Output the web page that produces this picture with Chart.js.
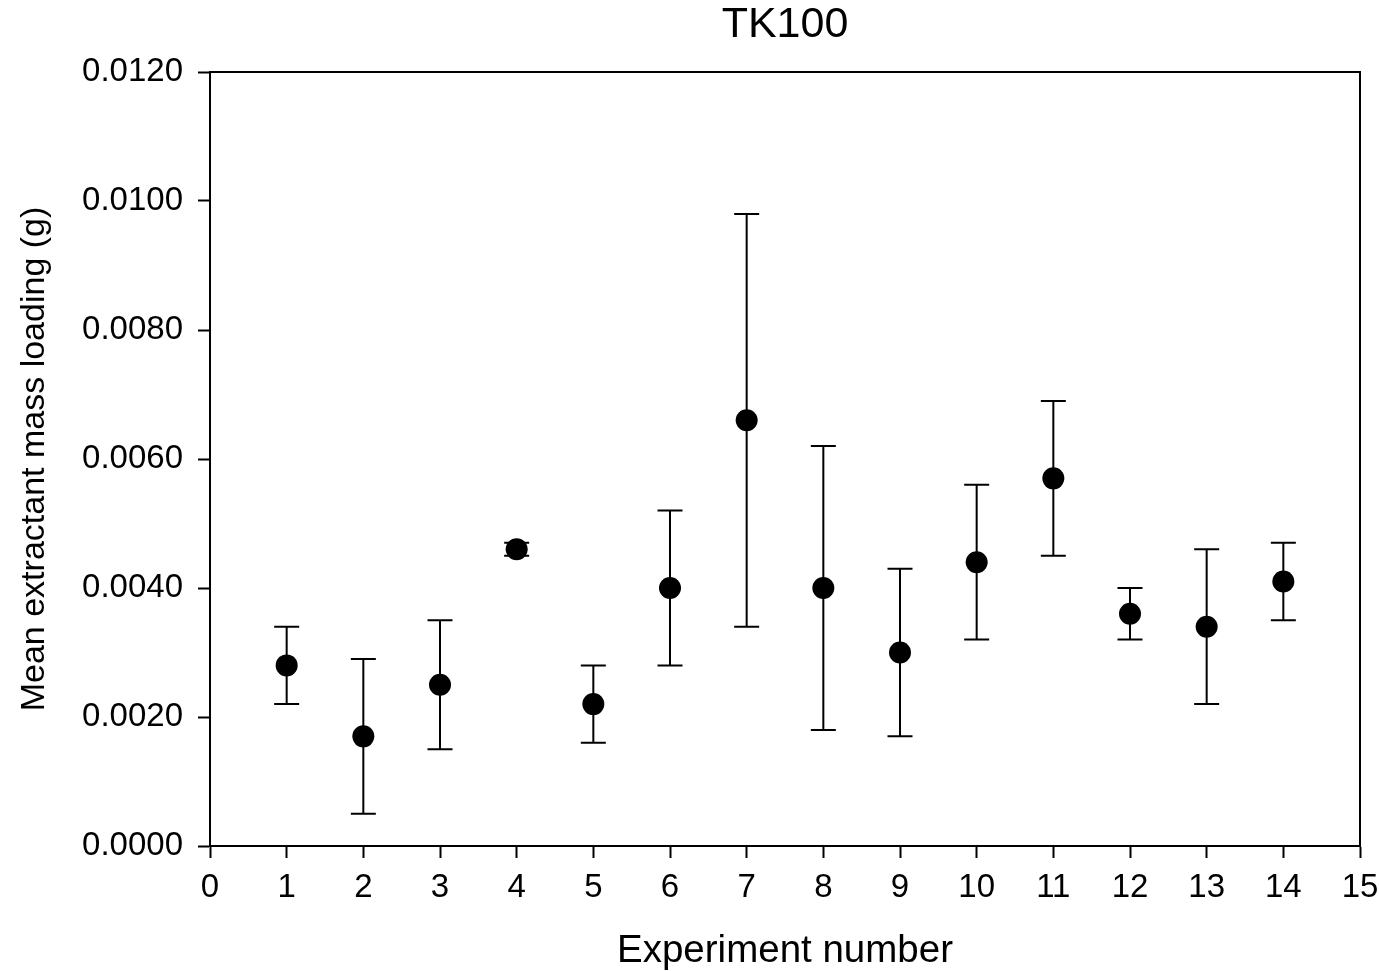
<!DOCTYPE html>
<html>
<head>
<meta charset="utf-8">
<script src="https://cdn.jsdelivr.net/npm/chart.js@4.4.1/dist/chart.umd.min.js"></script>
<style>
	html, body { margin: 0; padding: 0; background: #fff; }
	#wrap { width: 1379px; height: 971px; }
</style>
</head>
<body>
<div id="wrap"><canvas id="chart"></canvas></div>
<script>
// experiment numbers, means and +/- error (g)
var experiments = [1, 2, 3, 4, 5, 6, 7, 8, 9, 10, 11, 12, 13, 14];
var meanLoading = [0.0028, 0.0017, 0.0025, 0.0046, 0.0022, 0.0040, 0.0066, 0.0040, 0.0030, 0.0044, 0.0057, 0.0036, 0.0034, 0.0041];
var loadingError = [0.0006, 0.0012, 0.0010, 0.0001, 0.0006, 0.0012, 0.0032, 0.0022, 0.0013, 0.0012, 0.0012, 0.0004, 0.0012, 0.0006];

var xTicks = [0, 15, 1];          // min, max, step
var yTicks = [0, 0.012, 0.002];   // min, max, step

const FONT = "'Liberation Sans', Arial, sans-serif";

//* error bars with caps, drawn under the points
const errorBarsPlugin = {
	id: "errorBars",
	beforeDatasetsDraw(chart) {
		const ctx = chart.ctx;
		const xs = chart.scales.x;
		const ys = chart.scales.y;
		ctx.save();
		ctx.strokeStyle = "#000";
		ctx.lineWidth = 2;
		experiments.forEach(function (exp, i) {
			const px = xs.getPixelForValue(exp);
			const top = ys.getPixelForValue(meanLoading[i] + loadingError[i]);
			const bot = ys.getPixelForValue(meanLoading[i] - loadingError[i]);
			ctx.beginPath();
			ctx.moveTo(px, top);
			ctx.lineTo(px, bot);
			ctx.moveTo(px - 12.5, top);
			ctx.lineTo(px + 12.5, top);
			ctx.moveTo(px - 12.5, bot);
			ctx.lineTo(px + 12.5, bot);
			ctx.stroke();
		});
		ctx.restore();
	},
};

//* top and right edges of the frame
const framePlugin = {
	id: "frame",
	afterDraw(chart) {
		const { left, right, top, bottom } = chart.chartArea;
		const ctx = chart.ctx;
		ctx.save();
		ctx.strokeStyle = "#000";
		ctx.lineWidth = 2;
		ctx.beginPath();
		ctx.moveTo(left, top);
		ctx.lineTo(right, top);
		ctx.lineTo(right, bottom);
		ctx.stroke();
		ctx.restore();
	},
};

const config = {
	type: "scatter",
	data: {
		datasets: [
			{
				label: "TK100",
				data: experiments.map((e, i) => ({ x: e, y: meanLoading[i] })),
				backgroundColor: "#000",
				borderColor: "#000",
				pointRadius: 11,
				pointBorderWidth: 0,
			},
		],
	},
	options: {
		responsive: true,
		maintainAspectRatio: false,
		animation: false,
		layout: {
			padding: { left: 0, right: 19, top: 0, bottom: 0 },
		},
		plugins: {
			legend: { display: false },
			tooltip: { enabled: false },
		},
		scales: {
			//* top axis only carries the title, so it centres over the plot
			top: {
				type: "linear",
				position: "top",
				min: xTicks[0],
				max: xTicks[1],
				afterFit(scale) {
					scale.height = 72;
					scale.paddingLeft = 0;
					scale.paddingRight = 0;
				},
				ticks: { display: false },
				grid: { display: false },
				border: { display: false },
				title: {
					display: true,
					text: "TK100",
					color: "#000",
					font: { family: FONT, size: 43, lineHeight: 1 },
					padding: { top: 4, bottom: 0 },
				},
			},
			x: {
				type: "linear",
				position: "bottom",
				min: xTicks[0],
				max: xTicks[1],
				afterFit(scale) {
					scale.height = 125;
					scale.paddingLeft = 0;
					scale.paddingRight = 0;
				},
				ticks: {
					stepSize: xTicks[2],
					color: "#000",
					padding: 13,
					font: { family: FONT, size: 33, lineHeight: 1 },
					maxRotation: 0,
				},
				grid: {
					display: true,
					drawOnChartArea: false,
					drawTicks: true,
					tickLength: 12,
					tickWidth: 2,
					color: "#000",
				},
				border: { display: true, color: "#000", width: 2 },
				title: {
					display: true,
					text: "Experiment number",
					color: "#000",
					font: { family: FONT, size: 38.5, lineHeight: 1 },
					padding: { top: 0, bottom: 0 },
				},
			},
			y: {
				type: "linear",
				min: yTicks[0],
				max: yTicks[1],
				afterFit(scale) {
					scale.width = 210;
				},
				ticks: {
					stepSize: yTicks[2],
					color: "#000",
					padding: 15,
					font: { family: FONT, size: 33, lineHeight: 1 },
					callback: (v) => v.toFixed(4),
				},
				grid: {
					display: true,
					drawOnChartArea: false,
					drawTicks: true,
					tickLength: 12,
					tickWidth: 2,
					color: "#000",
				},
				border: { display: true, color: "#000", width: 2 },
				title: {
					display: true,
					text: "Mean extractant mass loading (g)",
					color: "#000",
					font: { family: FONT, size: 34, lineHeight: 1 },
					padding: { top: 18, bottom: 0 },
				},
			},
		},
	},
	plugins: [errorBarsPlugin, framePlugin],
};

var chart = new Chart(document.getElementById("chart"), config);
</script>
</body>
</html>
